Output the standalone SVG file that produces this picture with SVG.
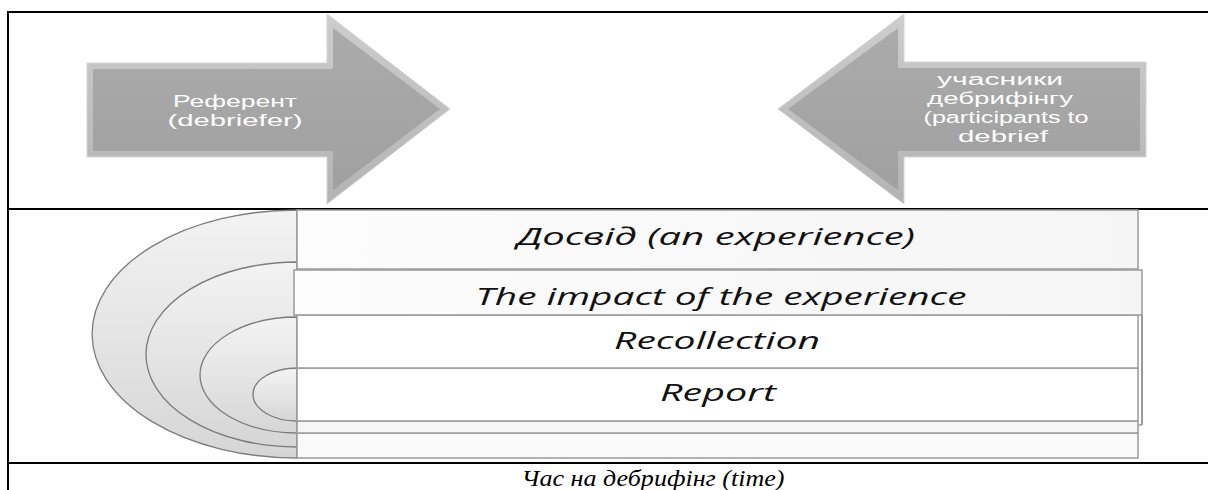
<svg xmlns="http://www.w3.org/2000/svg" width="1208" height="490" viewBox="0 0 1208 490">
<style>
.rule{stroke:#000;stroke-width:2;fill:none}
.arrowOuter{fill:url(#bevelG);stroke:#d4d4d4;stroke-width:1}
.arrowInner{fill:url(#arrowG)}
.atext{font-family:"Liberation Sans","DejaVu Sans",sans-serif;font-size:16px;fill:#ffffff;text-anchor:middle}
.band{stroke:#9a9a9a;stroke-width:1.5}
.arc{fill:url(#arcG);stroke:#7c7c7c;stroke-width:1.3}
.ltext{font-family:"Open Sans","DejaVu Sans",sans-serif;font-style:italic;font-size:23px;fill:#111;text-anchor:middle}
.cap{font-family:"Liberation Serif","Times New Roman",serif;font-style:italic;font-size:23px;fill:#000;text-anchor:middle}
</style>
<defs>
<linearGradient id="bevelG" x1="0" y1="0" x2="0" y2="1">
<stop offset="0" stop-color="#cdcdcd"/>
<stop offset="1" stop-color="#b3b3b3"/>
</linearGradient>
<linearGradient id="arrowG" x1="0" y1="0" x2="0" y2="1">
<stop offset="0" stop-color="#ababab"/>
<stop offset="1" stop-color="#a0a0a0"/>
</linearGradient>
<linearGradient id="arcG" x1="0" y1="0" x2="0" y2="1">
<stop offset="0" stop-color="#f3f3f3"/>
<stop offset="1" stop-color="#d6d6d6"/>
</linearGradient>
<linearGradient id="bandG" x1="0" y1="0" x2="1" y2="0">
<stop offset="0" stop-color="#fcfcfc"/>
<stop offset="1" stop-color="#f5f5f5"/>
</linearGradient>
</defs>
<rect width="1208" height="490" fill="#ffffff"/>

<g id="table">
<line class="rule" x1="7" y1="12" x2="1208" y2="12"/>
<line class="rule" x1="8" y1="11" x2="8" y2="490"/>
<line class="rule" x1="7" y1="209" x2="1208" y2="209"/>
<line class="rule" x1="7" y1="463" x2="1208" y2="463"/>
</g>

<g id="node-debriefer">
<polygon class="arrowOuter" points="87,63 327,63 327,14 450,109 327,204 327,157 87,157"/>
<polygon class="arrowInner" points="93,69 333,69 333,28 440,109 333,190 333,151 93,151"/>
<text class="atext" x="235" y="107" textLength="124" lengthAdjust="spacingAndGlyphs">Референт</text>
<text class="atext" x="235" y="126" textLength="135" lengthAdjust="spacingAndGlyphs">(debriefer)</text>
</g>

<g id="node-participants">
<polygon class="arrowOuter" points="1146,62 904,62 904,14 778,109 904,204 904,157 1146,157"/>
<polygon class="arrowInner" points="1140,68 898,68 898,28 788,109 898,190 898,151 1140,151"/>
<text class="atext" x="1000" y="85" textLength="126" lengthAdjust="spacingAndGlyphs">учасники</text>
<text class="atext" x="1000" y="104" textLength="146" lengthAdjust="spacingAndGlyphs">дебрифінгу</text>
<text class="atext" x="1006" y="123" textLength="165" lengthAdjust="spacingAndGlyphs">(participants to</text>
<text class="atext" x="1003" y="142" textLength="90" lengthAdjust="spacingAndGlyphs">debrief</text>
</g>

<g id="node-arcs">
<path class="arc" d="M297,210 A205,124 0 0 0 297,458 Z"/>
<path class="arc" d="M297,262 A151,92.5 0 0 0 297,447 Z"/>
<path class="arc" d="M297,317 A97,58 0 0 0 297,433 Z"/>
<path class="arc" d="M297,368 A44,26.5 0 0 0 297,421 Z"/>
</g>

<g id="node-bands">
<rect class="band" x="297" y="433" width="841" height="25" fill="#fafafa"/>
<rect class="band" x="297" y="421" width="841" height="12" fill="#f6f6f6"/>
<line x1="1142" y1="315" x2="1142" y2="425" stroke="#9a9a9a" stroke-width="2"/>
<line x1="1138" y1="425" x2="1142" y2="425" stroke="#9a9a9a" stroke-width="1.5"/>
</g>

<g id="node-report">
<rect class="band" x="297" y="368" width="841" height="53" fill="#ffffff"/>
<text class="ltext" x="718" y="401" textLength="116" lengthAdjust="spacingAndGlyphs">Report</text>
</g>

<g id="node-recollection">
<rect class="band" x="297" y="315" width="841" height="53" fill="#ffffff"/>
<text class="ltext" x="717" y="349" textLength="206" lengthAdjust="spacingAndGlyphs">Recollection</text>
</g>

<g id="node-experience">
<rect class="band" x="297" y="210" width="841" height="59" fill="url(#bandG)"/>
<text class="ltext" x="716" y="245" textLength="398" lengthAdjust="spacingAndGlyphs">Досвід (an experience)</text>
</g>

<g id="node-impact">
<rect class="band" x="294" y="270" width="848" height="45" fill="url(#bandG)"/>
<text class="ltext" x="721" y="305" textLength="491" lengthAdjust="spacingAndGlyphs">The impact of the experience</text>
</g>

<g id="connectors"></g>

<g id="caption">
<text class="cap" x="653" y="486" textLength="263" lengthAdjust="spacingAndGlyphs">Час на дебрифінг (time)</text>
</g>
</svg>
